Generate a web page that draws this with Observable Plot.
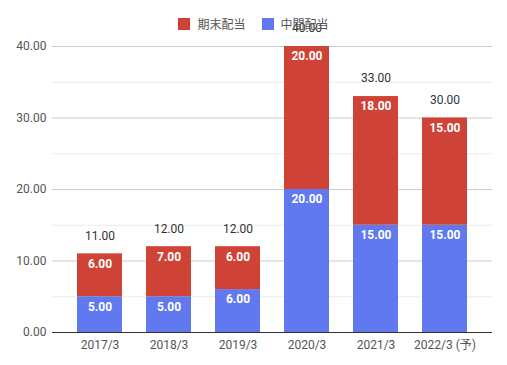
<!DOCTYPE html>
<html><head><meta charset="utf-8">
<script src="https://cdn.jsdelivr.net/npm/d3@7"></script>
<script src="https://cdn.jsdelivr.net/npm/@observablehq/plot@0.6"></script>
<style>
body{margin:0;background:#fff;font-family:Roboto,"Noto Sans CJK JP",sans-serif;}
#wrap{position:relative;width:507px;height:365px;}
#legend{position:absolute;top:15px;left:0;width:507px;display:flex;justify-content:center;align-items:center;font-size:12px;color:#555;font-family:Roboto,"Noto Sans CJK JP",sans-serif;}
.item{display:flex;align-items:center;margin:0 8px;}
.sw{width:12px;height:12px;margin-right:7px;}
</style></head>
<body><div id="wrap"><div id="legend"></div></div>
<script>
const categories = ["2017/3","2018/3","2019/3","2020/3","2021/3","2022/3 (予)"];
const interim = [5,5,6,20,15,15];      // 中間配当
const yearEnd = [6,7,6,20,18,15];      // 期末配当
const totals = [11,12,12,40,33,30];
const seriesNames = ["中間配当","期末配当"];
const colors = ["#6079ef","#cf4336"];
const legendOrder = ["期末配当","中間配当"];
const majorTicks = [0,10,20,30,40];
const minorTicks = [5,15,25,35];

const rows = [];
categories.forEach((c,i)=>{
  rows.push({cat:c, series:"中間配当", value:interim[i]});
  rows.push({cat:c, series:"期末配当", value:yearEnd[i]});
});

const leg = document.getElementById("legend");
legendOrder.forEach(n=>{
  const it = document.createElement("div"); it.className="item";
  const sw = document.createElement("div"); sw.className="sw";
  sw.style.background = colors[seriesNames.indexOf(n)];
  const t = document.createElement("span"); t.textContent = n;
  it.appendChild(sw); it.appendChild(t); leg.appendChild(it);
});

const chart = Plot.plot({
  width: 507, height: 365,
  marginLeft: 52, marginRight: 15, marginTop: 46, marginBottom: 33,
  style: {fontFamily: "Roboto, 'Noto Sans CJK JP', sans-serif", fontSize: "12px", color: "#555", background: "transparent", overflow: "visible"},
  x: {domain: categories, paddingInner: 0.35, paddingOuter: 0.175, insetLeft: 11, insetRight: 11, label: null},
  y: {domain: [0,40], label: null},
  color: {domain: seriesNames, range: colors},
  marks: [
    Plot.ruleY(minorTicks, {stroke: "#ebebeb"}),
    Plot.ruleY(majorTicks.slice(1), {stroke: "#cccccc"}),
    Plot.barY(rows, {x: "cat", y: "value", fill: "series", z: "series"}),
    Plot.ruleY([0], {stroke: "#333"}),
    Plot.text(rows, Plot.stackY2({x: "cat", y: "value", z: "series", text: d => d.value.toFixed(2), fill: "white", fontWeight: "bold", fontSize: 12, dy: 10})),
    Plot.text(categories, {x: (d,i)=>categories[i], y: (d,i)=>totals[i], text: (d,i)=>totals[i].toFixed(2), fill: "#333", fontSize: 12, dy: -18}),
    Plot.axisX({tickSize: 0, tickPadding: 8, fontSize: 12, label: null}),
    Plot.axisY({ticks: majorTicks, tickSize: 0, tickPadding: 6, tickFormat: d => d.toFixed(2), fontSize: 12, label: null})
  ]
});
chart.style.position = "absolute";
chart.style.top = "0"; chart.style.left = "0";
document.getElementById("wrap").insertBefore(chart, document.getElementById("legend"));
</script></body></html>
